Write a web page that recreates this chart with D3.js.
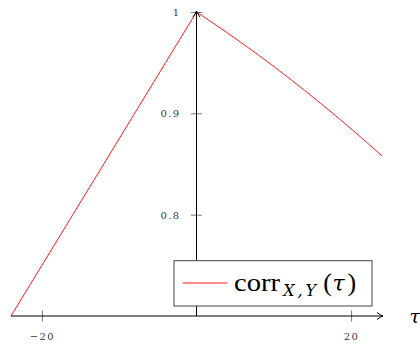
<!DOCTYPE html>
<html><head><meta charset="utf-8">
<script src="https://cdn.jsdelivr.net/npm/d3@7"></script>
<style>html,body{margin:0;padding:0;background:#fff;}svg{display:block;}</style>
</head><body>
<svg id="c" width="420" height="344"></svg>
<script>
const tauLeft = [-24,-20,-16,-12,-8,-4,0];
const corrLeft = [0.700,0.750,0.800,0.850,0.900,0.950,1.000];
const tauRight = [0,2,4,6,8,10,12,14,16,18,20,22,24];
const corrRight = [1.0000,0.9898,0.9794,0.9686,0.9576,0.9462,0.9345,0.9225,0.9102,0.8976,0.8847,0.8715,0.8580];
const xTicks = [-20,20];
const yTicks = [0.8,0.9,1];
const xDomain = [-24,24];
const yDomain = [0.7,1];

const svg = d3.select("#c");
const x = d3.scaleLinear().domain(xDomain).range([11,382]);
const y = d3.scaleLinear().domain(yDomain).range([316,12]);
const serif = "Liberation Serif";
const tickFont = "DejaVu Serif";

// data line
svg.append("path")
  .datum(tauLeft.map((t,i)=>[t,corrLeft[i]]))
  .attr("fill","none").attr("stroke","#ff0000").attr("stroke-width",0.9)
  .attr("d", d3.line().x(d=>x(d[0])).y(d=>y(d[1])));
svg.append("path")
  .datum(tauRight.map((t,i)=>[t,corrRight[i]]))
  .attr("fill","none").attr("stroke","#ff0000").attr("stroke-width",0.9)
  .attr("d", d3.line().curve(d3.curveMonotoneX).x(d=>x(d[0])).y(d=>y(d[1])));

// x axis
const xAxis = svg.append("g").attr("transform",`translate(0,${y(yDomain[0])})`)
  .call(d3.axisBottom(x).tickValues(xTicks).tickSize(0).tickPadding(0));
xAxis.attr("font-family",tickFont);
xAxis.select(".domain").remove();
xAxis.selectAll(".tick line").attr("y1",-5.5).attr("y2",5.5).attr("stroke","#555").attr("stroke-width",0.8);
xAxis.selectAll(".tick text").attr("y",24).attr("dy",0).attr("fill","#3a3a3a")
  .attr("font-family",tickFont).attr("font-size",10).style("letter-spacing","1.4px");

// y axis
const yAxis = svg.append("g").attr("transform",`translate(${x(0)},0)`)
  .call(d3.axisLeft(y).tickValues(yTicks).tickSize(0).tickPadding(0)
    .tickFormat(d=> d===1 ? "1" : d3.format(".1f")(d)));
yAxis.attr("font-family",tickFont);
yAxis.select(".domain").remove();
yAxis.selectAll(".tick line").attr("x1",-5.5).attr("x2",5.5).attr("stroke","#555").attr("stroke-width",0.8);
yAxis.selectAll(".tick text").attr("x",-16).attr("dy","0.34em").attr("fill","#3a3a3a")
  .attr("font-family",tickFont).attr("font-size",10).style("letter-spacing","1.4px");

// axis lines with arrows
const x0 = x(0), yb = y(yDomain[0]);
const xe = x(xDomain[1]) + 1, yt = y(yDomain[1]) - 1;
svg.append("line").attr("x1",x(xDomain[0])).attr("x2",xe).attr("y1",yb).attr("y2",yb)
  .attr("stroke","#000").attr("stroke-width",1);
svg.append("line").attr("x1",x0).attr("x2",x0).attr("y1",yb).attr("y2",yt)
  .attr("stroke","#000").attr("stroke-width",1);
svg.append("path").attr("d",`M${xe-6},${yb-3.5} Q${xe-2},${yb-0.5} ${xe},${yb} Q${xe-2},${yb+0.5} ${xe-6},${yb+3.5}`)
  .attr("fill","none").attr("stroke","#000").attr("stroke-width",1);
svg.append("path").attr("d",`M${x0-3.5},${yt+6} Q${x0-0.5},${yt+2} ${x0},${yt} Q${x0+0.5},${yt+2} ${x0+3.5},${yt+6}`)
  .attr("fill","none").attr("stroke","#000").attr("stroke-width",1);

// tau label
svg.append("text").attr("x",409.5).attr("y",323).text("τ")
  .attr("font-family","DejaVu Serif").attr("font-style","italic").attr("font-size",19).attr("fill","#000");

// legend
const lg = svg.append("g").attr("font-family",serif).attr("fill","#000");
lg.append("rect").attr("x",174).attr("y",260.7).attr("width",198).attr("height",45.3)
  .attr("fill","#fff").attr("stroke","#444").attr("stroke-width",1);
lg.append("line").attr("x1",182.7).attr("x2",227.3).attr("y1",283).attr("y2",283)
  .attr("stroke","#ff0000").attr("stroke-width",0.9);
lg.append("text").attr("x",234).attr("y",291).attr("font-size",26)
  .attr("textLength",46).attr("lengthAdjust","spacingAndGlyphs").text("corr");
const sub = lg.append("g").attr("font-family","DejaVu Serif").attr("font-style","italic").attr("font-size",16);
sub.append("text").attr("x",283.3).attr("y",295.5).text("X");
sub.append("text").attr("x",297.5).attr("y",295.5).text(",");
sub.append("text").attr("x",305.5).attr("y",295.5).text("Y");
lg.append("text").attr("x",323.3).attr("y",291).attr("font-size",26).text("(");
lg.append("text").attr("x",332.5).attr("y",291).attr("font-family","DejaVu Serif").attr("font-size",22).attr("font-style","italic").text("τ");
lg.append("text").attr("x",347.5).attr("y",291).attr("font-size",26).text(")");
</script>
</body></html>
